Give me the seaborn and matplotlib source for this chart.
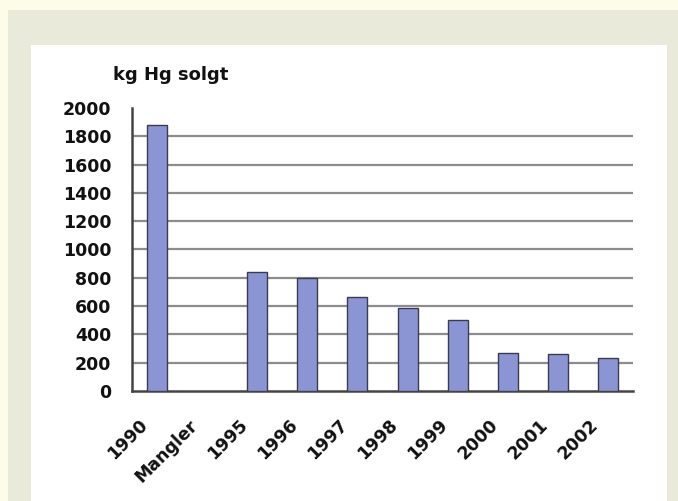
import matplotlib
matplotlib.use("Agg")
import matplotlib.pyplot as plt
from matplotlib.patches import Rectangle
from matplotlib.transforms import ScaledTranslation
import seaborn as sns
import pandas as pd
import numpy as np

categories = ["1990", "Mangler", "1995", "1996", "1997", "1998", "1999", "2000", "2001", "2002"]
values = [1880, np.nan, 843, 796, 666, 584, 502, 271, 261, 235]
y_ticks = [0, 200, 400, 600, 800, 1000, 1200, 1400, 1600, 1800, 2000]
y_title = "kg Hg solgt"

sns.set_theme(style="white")
plt.rcParams["font.family"] = ["DejaVu Sans"]

W, H = 678, 501
fig = plt.figure(figsize=(W / 100, H / 100), dpi=100, facecolor="#fcfce9")

def px_rect(x0, y0, x1, y1, color):
    fig.patches.append(Rectangle((x0 / W, 1 - y1 / H), (x1 - x0) / W, (y1 - y0) / H,
                                 transform=fig.transFigure, facecolor=color,
                                 edgecolor="none", zorder=-10))

px_rect(8, 10, W, H, "#eaeadb")
px_rect(31, 45, 667, H, "#ffffff")

ax = fig.add_axes([132 / W, 1 - 391 / H, (633 - 132) / W, (391 - 108) / H])
ax.set_zorder(5)
ax.set_facecolor("none")

df = pd.DataFrame({"cat": categories, "val": values})
sns.barplot(data=df, x="cat", y="val", order=categories, color="#8b95d3",
            saturation=1, width=0.4, edgecolor="#3a3a50", linewidth=1.0, ax=ax, zorder=3)

ax.set_xlim(-0.5, len(categories) - 0.5)
ax.set_ylim(0, 2000)
ax.set_yticks(y_ticks)
ax.set_yticklabels([str(t) for t in y_ticks], fontsize=12.5, fontweight="bold", color="#111111")
for t in y_ticks[1:-1]:
    ax.axhline(t, color="#8c8c8c", linewidth=1.6, zorder=1)

ax.set_xticks(range(len(categories)))
ax.set_xticklabels(categories, rotation=45, ha="right", rotation_mode="anchor",
                   fontsize=12.5, fontweight="bold", color="#111111")
ax.tick_params(axis="x", which="major", length=0, pad=8)
offset = ScaledTranslation(-19 / 100, -14 / 100, fig.dpi_scale_trans)
for lbl in ax.get_xticklabels():
    lbl.set_transform(lbl.get_transform() + offset)
ax.set_xticks(np.arange(-0.5, len(categories), 1.0), minor=True)
ax.tick_params(axis="x", which="minor", length=6, width=1.6, color="#444444", direction="out")
ax.tick_params(axis="y", which="major", length=8, width=1.6, color="#444444", direction="inout", pad=11)

ax.set_xlabel("")
ax.set_ylabel("")
for s in ["top", "right"]:
    ax.spines[s].set_visible(False)
for s in ["left", "bottom"]:
    ax.spines[s].set_color("#444444")
    ax.spines[s].set_linewidth(1.8)

fig.text(113 / W, 1 - 75 / H, y_title, fontsize=13, fontweight="bold", color="#111111",
         ha="left", va="center")

fig.savefig("out.png", dpi=100, facecolor=fig.get_facecolor())
